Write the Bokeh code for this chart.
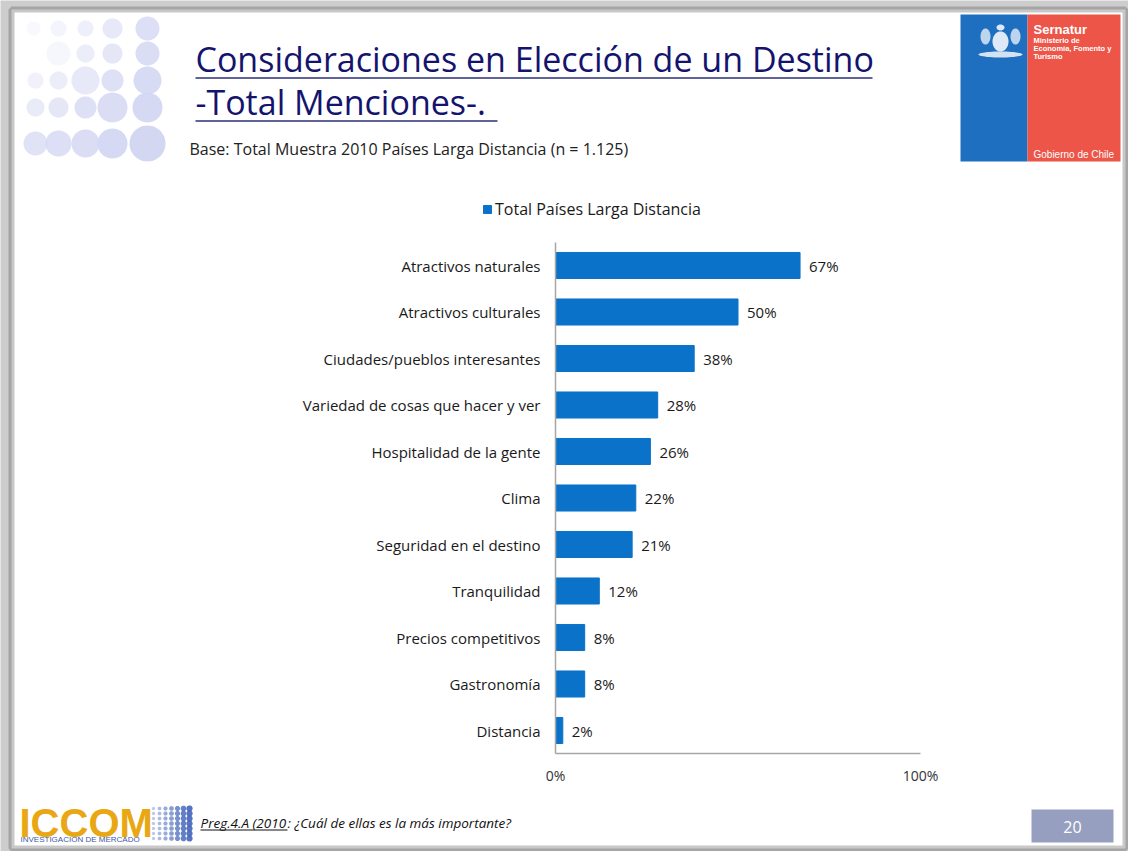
import numpy as np
from bokeh.plotting import figure
from bokeh.models import (ColumnDataSource, LabelSet, Label, BoxAnnotation, PolyAnnotation,
                          FixedTicker, Legend, LegendItem, Range1d)
from bokeh.core.properties import value
from bokeh.embed import file_html
from bokeh.resources import INLINE

# ---------------- data ----------------
categories = ["Atractivos naturales", "Atractivos culturales", "Ciudades/pueblos interesantes",
              "Variedad de cosas que hacer y ver", "Hospitalidad de la gente", "Clima",
              "Seguridad en el destino", "Tranquilidad", "Precios competitivos",
              "Gastronomía", "Distancia"]
values = [67, 50, 38, 28, 26, 22, 21, 12, 8, 8, 2]
x_ticks = [0, 100]
x_tick_labels = ["0%", "100%"]
series_name = "Total Países Larga Distancia"
title_1 = "Consideraciones en Elección de un Destino"
title_2 = "-Total Menciones-."
subtitle = "Base: Total Muestra 2010 Países Larga Distancia (n = 1.125)"
footnote_a = "Preg.4.A (2010"
footnote_b = ": ¿Cuál de ellas es la más importante?"
page_number = "20"

FONT = "Open Sans"
BAR = "#0b72c9"
W, H = 1128, 851

# chart placement on the canvas (pixels): 0% / 100% and first / last category centres
X0, X100 = 555.0, 920.0
Y_FIRST, Y_LAST = 265.0, 730.0
ppx = (X100 - X0) / 100.0
ppy = (Y_LAST - Y_FIRST) / (len(categories) - 1)

pos = list(range(len(categories)))
src = ColumnDataSource(dict(pos=pos, cat=categories, val=values,
                            lab=[f"{v}%" for v in values]))

p = figure(width=W, height=H,
           x_range=Range1d(-X0 / ppx, (W - X0) / ppx),
           y_range=Range1d((H - Y_FIRST) / ppy, -Y_FIRST / ppy),
           output_backend="svg", toolbar_location=None,
           min_border_left=0, min_border_right=0, min_border_top=0, min_border_bottom=0)
p.outline_line_color = None
p.grid.visible = False
p.background_fill_color = "#cdcdcd"
p.border_fill_color = "#cdcdcd"

# slide: white page with dark frame
p.add_layout(BoxAnnotation(left=11, right=1125, top=9, bottom=848,
                           left_units="canvas", right_units="canvas",
                           top_units="canvas", bottom_units="canvas",
                           fill_color="white", fill_alpha=1, line_color="#4a4a4a",
                           line_width=6, level="underlay", editable=False))

r = p.hbar(y="pos", left=0, right="val", height=0.56, source=src,
           fill_color=BAR, line_color=BAR)

xa = p.xaxis[0]
xa.fixed_location = len(categories) - 0.5
xa.bounds = (0, 100)
xa.ticker = FixedTicker(ticks=x_ticks)
xa.major_label_overrides = dict(zip(x_ticks, x_tick_labels))
xa.major_tick_line_color = None
xa.major_tick_out = 0
xa.major_tick_in = 0
xa.minor_tick_line_color = None
xa.axis_line_color = "#a6a6a6"
xa.axis_line_width = 1.5
xa.major_label_standoff = 12
xa.major_label_text_font = FONT
xa.major_label_text_font_size = "14px"
xa.major_label_text_color = "#333333"

ya = p.yaxis[0]
ya.fixed_location = 0
ya.bounds = (-0.5, len(categories) - 0.5)
ya.ticker = FixedTicker(ticks=pos)
ya.major_label_overrides = dict(zip(pos, categories))
ya.major_tick_line_color = None
ya.major_tick_out = 0
ya.major_tick_in = 0
ya.minor_tick_line_color = None
ya.axis_line_color = "#a6a6a6"
ya.axis_line_width = 1.5
ya.major_label_standoff = 15
ya.major_label_text_font = FONT
ya.major_label_text_font_size = "15px"
ya.major_label_text_color = "#1a1a1a"

p.add_layout(LabelSet(x="val", y="pos", text="lab", source=src, x_offset=9,
                      text_baseline="middle", text_align="left", text_font=value(FONT),
                      text_font_size=value("15px"), text_color="#1a1a1a"))

legend = Legend(items=[LegendItem(label=series_name, renderers=[r])],
                location=(482, H - 220), glyph_width=10, glyph_height=10, label_height=18,
                padding=0, margin=0, border_line_color=None, background_fill_alpha=0,
                label_text_font=FONT, label_text_font_size="16px", label_standoff=3,
                label_text_color="#1a1a1a")
p.add_layout(legend)

# ---------- page decoration, canvas units (pixels from top-left) ----------
def box(x1, y1, x2, y2, fill, alpha=1.0):
    p.add_layout(BoxAnnotation(left=x1, right=x2, top=y1, bottom=y2,
                               left_units="canvas", right_units="canvas",
                               top_units="canvas", bottom_units="canvas",
                               fill_color=fill, fill_alpha=alpha, line_alpha=0,
                               level="underlay", editable=False))

def poly(xs, ys, fill, alpha=1.0):
    p.add_layout(PolyAnnotation(xs=list(xs), ys=list(ys), xs_units="canvas",
                                ys_units="canvas", fill_color=fill, fill_alpha=alpha,
                                line_alpha=0, level="underlay", editable=False))

def label(px, py, text, size, color, font=FONT, style="normal", align="left"):
    p.add_layout(Label(x=px, y=py, x_units="canvas", y_units="canvas", text=text,
                       text_font=font, text_font_size=size, text_color=color,
                       text_font_style=style, text_align=align, text_baseline="middle"))

t = np.linspace(0, 2 * np.pi, 48, endpoint=False)

# bubbles, top-left
bubbles = [
    (33, 28, 7, .15), (58, 28, 8, .25), (85, 28, 8, .4), (112, 28, 10, .55), (147, 28, 12, .8),
    (58, 53, 12, .2), (85, 53, 9, .45), (112, 53, 10, .6), (147, 53, 12, .85),
    (35, 80, 8, .35), (58, 80, 9, .45), (85, 80, 14, .55), (112, 80, 11, .75), (147, 80, 14, .9),
    (35, 107, 9, .5), (58, 107, 10, .6), (85, 107, 11, .75), (112, 107, 15, .85), (147, 107, 15, .95),
    (35, 143, 12, .7), (58, 143, 13, .8), (85, 143, 14, .85), (112, 143, 15, .95), (147, 143, 18, 1.0),
]
for cx, cy, rr, a in bubbles:
    poly(cx + rr * np.cos(t), cy + rr * np.sin(t), "#d3d7f2", a)

# title and underlines
label(195, 58, title_1, "34px", "#14146e")
label(195, 101, title_2, "34px", "#14146e")
box(195, 76.5, 872, 78.5, "#5f6399")
box(195, 119.5, 497, 121.5, "#5f6399")
label(189, 148, subtitle, "16px", "#222222")

# Sernatur logo
box(960, 14, 1027, 161, "#1f6fc0")
box(1027, 14, 1120, 161, "#ec5548")
poly(1000 + 8 * np.cos(t), 41 + 10 * np.sin(t), "white", 0.85)
poly(1000 + 22 * np.cos(t), 54 + 3 * np.sin(t), "white", 0.8)
poly(985 + 5 * np.cos(t), 36 + 8 * np.sin(t), "white", 0.7)
poly(1015 + 5 * np.cos(t), 36 + 8 * np.sin(t), "white", 0.7)
poly(1000 + 4 * np.cos(t), 27 + 3 * np.sin(t), "white", 0.85)
label(1033, 29, "Sernatur", "13px", "white", font="Liberation Sans", style="bold")
label(1033, 40, "Ministerio de", "7.5px", "white", font="Liberation Sans", style="bold")
label(1033, 48, "Economía, Fomento y", "7.5px", "white", font="Liberation Sans", style="bold")
label(1033, 56, "Turismo", "7.5px", "white", font="Liberation Sans", style="bold")
label(1033, 154, "Gobierno de Chile", "10px", "white", font="Liberation Sans")

# ICCOM logo
label(19, 822, "ICCOM", "40px", "#e8a713", font="Liberation Sans", style="bold")
label(20, 839, "INVESTIGACION DE MERCADO", "8px", "#3a5ba8", font="Liberation Sans")
for i in range(7):
    for j in range(7):
        rr = 1.6 + 0.25 * j
        poly(153 + j * 6 + rr * np.cos(t), 808 + i * 5 + rr * np.sin(t), "#3f62b8",
             0.35 + 0.09 * j)

# footnote
label(200, 822, footnote_a, "13.5px", "#111111", style="italic")
box(200, 829, 287, 830, "#111111")
label(287, 822, footnote_b, "13.5px", "#111111", style="italic")

# page number
box(1031, 809, 1113, 842, "#979fc0")
label(1072, 826, page_number, "16px", "white", align="center")

open("out.html", "w").write(file_html(p, INLINE))
